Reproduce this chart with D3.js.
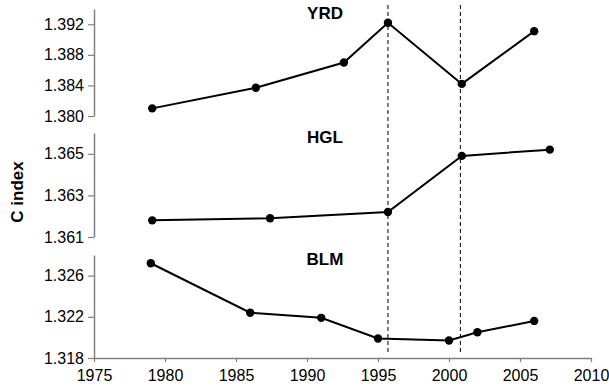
<!DOCTYPE html>
<html>
<head>
<meta charset="utf-8">
<script src="https://cdn.jsdelivr.net/npm/d3@7"></script>
<style>
  body { margin: 0; background: #fff; }
  svg { display: block; font-family: Arial, "Liberation Sans", sans-serif; }
</style>
</head>
<body>
<div id="chart"></div>
<script>
'use strict';

// data
var yrdYears = [1979.1, 1986.4, 1992.6, 1995.7, 2000.9, 2006.0];
var yrdValues = [1.3810, 1.3837, 1.3870, 1.3922, 1.3842, 1.3911];

var hglYears = [1979.1, 1987.4, 1995.7, 2000.9, 2007.1];
var hglValues = [1.3618, 1.3619, 1.3622, 1.3649, 1.3652];

var blmYears = [1979.0, 1986.0, 1991.0, 1995.0, 2000.0, 2002.0, 2006.0];
var blmValues = [1.3272, 1.3224, 1.3219, 1.3199, 1.3197, 1.3205, 1.3216];

var xTicks = [1975, 1980, 1985, 1990, 1995, 2000, 2005, 2010];
var breakYears = [1995.7, 2000.8];

var panelNames = ['YRD', 'HGL', 'BLM'];
var panelDomains = [[1.380, 1.394], [1.361, 1.366], [1.318, 1.328]];
var panelTicks = [[1.380, 1.384, 1.388, 1.392], [1.361, 1.363, 1.365], [1.318, 1.322, 1.326]];

var WIDTH = 609, HEIGHT = 387;
var LEFT = 94, RIGHT = 591;
var panelRanges = [[116, 9], [237, 133], [358, 255]];

var svg = d3.select('#chart').append('svg')
  .attr('width', WIDTH)
  .attr('height', HEIGHT);

var x = d3.scaleLinear().domain([1975, 2010]).range([LEFT, RIGHT]);

var series = [
  { years: yrdYears, values: yrdValues },
  { years: hglYears, values: hglValues },
  { years: blmYears, values: blmValues }
];

// dashed reference lines
svg.selectAll('.breakline')
  .data(breakYears)
  .enter().append('line')
  .attr('class', 'breakline')
  .attr('x1', function(d) { return x(d); })
  .attr('x2', function(d) { return x(d); })
  .attr('y1', 5)
  .attr('y2', 352)
  .attr('stroke', '#000')
  .attr('stroke-width', 1)
  .attr('stroke-dasharray', '4,3');

panelNames.forEach(function(name, i) {
  var y = d3.scaleLinear().domain(panelDomains[i]).range(panelRanges[i]);
  var g = svg.append('g');

  var yAxis = d3.axisLeft(y)
    .tickValues(panelTicks[i])
    .tickFormat(d3.format('.3f'))
    .tickSize(6)
    .tickPadding(4)
    .tickSizeOuter(0);

  var ag = g.append('g')
    .attr('transform', 'translate(' + LEFT + ',0)')
    .call(yAxis);
  ag.select('.domain').attr('stroke', '#808080').attr('stroke-width', 1.5);
  ag.selectAll('.tick line').attr('stroke', '#808080').attr('stroke-width', 1.2);
  ag.selectAll('.tick text')
    .attr('font-size', '16px')
    .attr('fill', '#000')
    .attr('font-family', 'Arial, "Liberation Sans", sans-serif');

  var s = series[i];
  var pts = s.years.map(function(yr, k) { return [yr, s.values[k]]; });

  var line = d3.line()
    .x(function(d) { return x(d[0]); })
    .y(function(d) { return y(d[1]); });

  g.append('path')
    .datum(pts)
    .attr('fill', 'none')
    .attr('stroke', '#000')
    .attr('stroke-width', 2)
    .attr('d', line);

  g.selectAll('circle')
    .data(pts)
    .enter().append('circle')
    .attr('cx', function(d) { return x(d[0]); })
    .attr('cy', function(d) { return y(d[1]); })
    .attr('r', 4.2)
    .attr('fill', '#000');

  g.append('text')
    .attr('x', 325)
    .attr('y', y(panelDomains[i][1]) + 10)
    .attr('text-anchor', 'middle')
    .attr('font-size', '17px')
    .attr('font-weight', 'bold')
    .text(name);
});

// x axis under the bottom panel
var xAxis = d3.axisBottom(x)
  .tickValues(xTicks)
  .tickFormat(d3.format('d'))
  .tickSize(4)
  .tickPadding(8)
  .tickSizeOuter(0);

var xg = svg.append('g')
  .attr('transform', 'translate(0,358)')
  .call(xAxis);
xg.select('.domain').attr('stroke', '#808080').attr('stroke-width', 1.5);
xg.selectAll('.tick line').attr('stroke', '#808080').attr('stroke-width', 1.2);
xg.selectAll('.tick text')
  .attr('font-size', '16px')
  .attr('fill', '#000')
  .attr('font-family', 'Arial, "Liberation Sans", sans-serif');

svg.append('text')
  .attr('transform', 'translate(23,192) rotate(-90)')
  .attr('text-anchor', 'middle')
  .attr('font-size', '17px')
  .attr('font-weight', 'bold')
  .text('C index');
</script>
</body>
</html>
